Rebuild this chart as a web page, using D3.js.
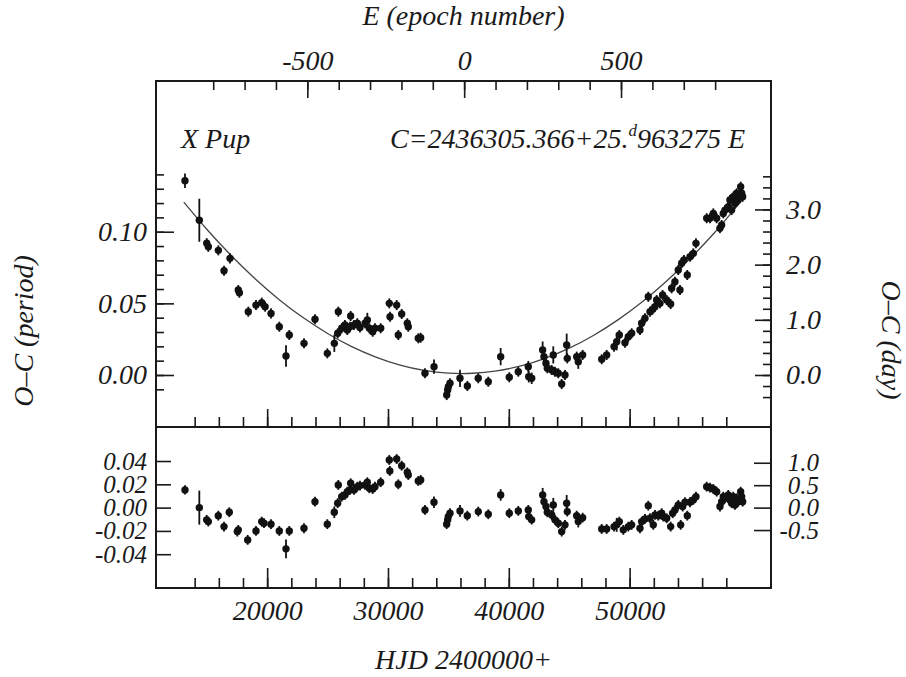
<!DOCTYPE html>
<html lang="en">
<head>
<meta charset="utf-8">
<title>X Pup O-C diagram</title>
<script src="https://cdn.jsdelivr.net/npm/d3@7"></script>
<style>
  body { margin: 0; background: #fff; }
  svg text {
    font-family: "Liberation Serif", "Times New Roman", serif;
    font-style: italic;
    font-size: 28px;
    fill: #1a1a1a;
  }
  svg .small text { font-size: 25px; }
  .axis path { display: none; }
  .axis line { stroke: #1a1a1a; stroke-width: 1.6; }
</style>
</head>
<body>
<script>

var period = 25.963275, epoch0 = 36305.366;

// [HJD-2400000, O-C (period), error bar]
var ocData = [
  [13200, 0.1356, 0.005], [14385, 0.108, 0.015], [15000, 0.092], [15130, 0.0895],
  [15960, 0.087], [16430, 0.0728], [16925, 0.0814], [17610, 0.0593], [17700, 0.0574],
  [18440, 0.0442], [19075, 0.0488], [19550, 0.0505], [19830, 0.0477], [20320, 0.043],
  [21005, 0.0337], [21560, 0.0133, 0.0075], [21830, 0.0279], [23050, 0.0221],
  [23960, 0.0389], [24980, 0.0151], [25560, 0.0221, 0.006], [25840, 0.0291],
  [25890, 0.0442], [26170, 0.0326], [26440, 0.0349], [26630, 0.0314], [26855, 0.0337],
  [26910, 0.0412], [27185, 0.0349], [27460, 0.0361], [27680, 0.0332], [28100, 0.0361],
  [28290, 0.0384, 0.005], [28455, 0.0326], [28735, 0.0302], [28925, 0.0326],
  [29400, 0.0326], [30110, 0.050], [30170, 0.0407], [30720, 0.0488], [30855, 0.0279],
  [31135, 0.0426], [31600, 0.0361], [31680, 0.0337], [32510, 0.0256], [32705, 0.026],
  [33060, 0.0012], [33810, 0.0058, 0.005], [34860, -0.014], [34940, -0.0105],
  [34995, -0.0082], [35130, -0.0058], [35960, -0.0023, 0.006], [36570, -0.0077],
  [37470, -0.0023], [38300, -0.0047], [39325, 0.0128, 0.006], [40040, -0.0016],
  [40785, 0.0023], [41610, 0.0058, 0.004], [41650, -0.0012, 0.004], [41895, -0.0023, 0.004],
  [42800, 0.0174, 0.006], [42910, 0.0128], [43075, 0.0082], [43185, 0.0047],
  [43545, 0.0035], [43680, 0.014, 0.006], [43820, 0.0023], [44095, 0.0012],
  [44375, -0.0063], [44650, 0.000], [44790, 0.0209, 0.008], [44840, 0.0116],
  [45620, 0.0128], [45750, 0.0093, 0.005], [46110, 0.014], [47690, 0.011], [48100, 0.014],
  [48710, 0.0198], [48930, 0.0232, 0.006], [49145, 0.0279], [49615, 0.0225],
  [49890, 0.0267], [50170, 0.0291], [50855, 0.0314], [50995, 0.0361], [51270, 0.0396],
  [51545, 0.0546], [51685, 0.0442], [51905, 0.0458], [52095, 0.0477], [52235, 0.0523],
  [52510, 0.050], [52730, 0.0558], [53065, 0.0523], [53395, 0.0495], [53475, 0.0605],
  [53750, 0.0651], [54025, 0.0733], [54165, 0.0593], [54305, 0.078], [54495, 0.0803],
  [54770, 0.0698], [55000, 0.0826], [55270, 0.0849], [55490, 0.0919], [56380, 0.1094],
  [56650, 0.1094], [56925, 0.1128], [57200, 0.1094], [57475, 0.1024], [57615, 0.1047],
  [57750, 0.1128], [57890, 0.1151], [58165, 0.1174], [58300, 0.1221], [58440, 0.1151],
  [58580, 0.1244], [58715, 0.1198], [58855, 0.1268], [58990, 0.1221], [59190, 0.1314],
  [59270, 0.1268], [59355, 0.1244]
];

// [HJD-2400000, residual (period), error bar]
var resData = [
  [13200, 0.0152, 0.004], [14385, 0.0, 0.0146], [14995, -0.0105], [15130, -0.012],
  [15956, -0.0069], [16866, -0.004], [16428, -0.0163], [17611, -0.0191], [17528, -0.0206],
  [18389, -0.0277], [19076, -0.020], [19548, -0.012], [19738, -0.0134], [20317, -0.0142],
  [21004, -0.020], [21559, -0.0354, 0.008], [21832, -0.020], [23048, -0.0177],
  [23958, 0.0051], [24977, -0.0142], [25556, -0.004, 0.005], [25887, 0.0195],
  [25837, 0.0038], [26168, 0.0094], [26441, 0.0109], [26632, 0.0137], [26855, 0.0152],
  [26913, 0.0209], [27186, 0.0152], [27460, 0.018], [27683, 0.0189], [28097, 0.0195],
  [28287, 0.0218], [28453, 0.0166], [28734, 0.016], [28924, 0.018], [29396, 0.0218],
  [30108, 0.0409], [30720, 0.0417], [30150, 0.0315], [30853, 0.020], [31134, 0.036],
  [31598, 0.0303], [31680, 0.028], [32508, 0.0229], [32706, 0.0237], [33062, -0.002],
  [33807, 0.0046, 0.005], [34858, -0.0142], [34991, -0.0077], [35131, -0.0048],
  [34940, -0.0105], [35959, -0.0028, 0.005], [36563, -0.0069], [37474, -0.0034],
  [38301, -0.0057], [39327, 0.0109, 0.005], [40039, -0.0048], [40784, -0.0028],
  [41611, -0.002], [41650, -0.0077, 0.004], [41893, -0.0105, 0.004], [42803, 0.0109, 0.006],
  [42911, 0.0051], [43076, 0.0009], [43184, -0.004], [43548, -0.0063], [43681, 0.0023, 0.006],
  [43822, -0.0105], [44095, -0.0134], [44376, -0.0206], [44649, -0.0148],
  [44790, 0.0038, 0.007], [44840, -0.0034], [45617, -0.0069], [45750, -0.012, 0.005],
  [46114, -0.0086], [47688, -0.0183], [48100, -0.0183], [48710, -0.0163],
  [48929, -0.0148, 0.006], [49145, -0.012], [49476, -0.0191], [49890, -0.0163],
  [50169, -0.0148], [50856, -0.0177], [50996, -0.012], [51270, -0.0097], [51543, 0.0017],
  [51684, -0.0091], [51958, -0.0148], [52098, -0.0063], [52371, -0.0069], [52653, -0.0048],
  [52785, -0.0077], [53066, -0.0091], [53397, -0.0163], [53562, -0.0048], [53753, -0.002],
  [54026, 0.0023], [54225, -0.0148], [54390, 0.0009], [54581, 0.0046], [54771, -0.0069],
  [54994, 0.0046], [55267, 0.0066], [55490, 0.0094], [56376, 0.018], [56650, 0.0171],
  [56923, 0.016], [57204, 0.0137], [57477, 0.0009], [57617, 0.0051], [57750, 0.0094],
  [57891, 0.008], [58164, 0.0109], [58305, 0.0066], [58445, 0.0038], [58578, 0.0094],
  [58719, 0.0023], [58860, 0.008], [58991, 0.0051], [59190, 0.0137], [59273, 0.0094],
  [59355, 0.0051]
];

// fitted parabola at regular HJD steps
var fitHJD = [13100, 15000, 17000, 19000, 21000, 23000, 25000, 27000, 29000, 31000, 33000,
              35000, 37000, 39000, 41000, 43000, 45000, 47000, 49000, 51000, 53000, 55000,
              57000, 59200];
var fitOC = [0.1206, 0.1017, 0.0836, 0.0672, 0.0526, 0.0399, 0.0290, 0.0198, 0.0125, 0.0069,
             0.0032, 0.0013, 0.0012, 0.0029, 0.0063, 0.0116, 0.0187, 0.0276, 0.0383, 0.0508,
             0.0651, 0.0813, 0.0991, 0.1210];

// tick values
var hjdMinor = d3.range(14000, 58001, 2000);
var hjdMajor = [20000, 30000, 40000, 50000];
var epochMinor = d3.range(-800, 801, 100);
var epochMajor = [-500, 0, 500];
var ocMinor = d3.range(-1, 15).map(function(d) { return d / 100; });
var ocMajor = [0, 0.05, 0.10];
var dayMinor = d3.range(-2, 19).map(function(d) { return d / 5; });
var dayMajor = [0, 1, 2, 3];
var resTicks = [-0.04, -0.02, 0, 0.02, 0.04];
var resDayTicks = [-0.5, 0, 0.5, 1.0];

var width = 906, height = 677;
var pLeft = 156, pRight = 771, pTop = 81, pMid = 427, pBottom = 588;

var svg = d3.select("body").append("svg")
    .attr("width", width)
    .attr("height", height);

var x = d3.scaleLinear().domain([10800, 61700]).range([pLeft, pRight]);
var xE = d3.scaleLinear()
    .domain(x.domain().map(function(h) { return (h - epoch0) / period; }))
    .range([pLeft, pRight]);

var yTop = d3.scaleLinear().domain([-0.0363, 0.2052]).range([pMid, pTop]);
var yTopDay = d3.scaleLinear().domain(yTop.domain().map(function(v) { return v * period; })).range([pMid, pTop]);
var yBot = d3.scaleLinear().domain([-0.069, 0.0692]).range([pBottom, pMid]);
var yBotDay = d3.scaleLinear().domain(yBot.domain().map(function(v) { return v * period; })).range([pBottom, pMid]);

var dash = function(f) { return function(d) { return f(d).replace("\u2212", "-"); }; };

function ticks(axis, tx, ty) {
  return svg.append("g").attr("class", "axis")
     .attr("transform", "translate(" + tx + "," + ty + ")")
     .call(axis);
}

// inward ticks, upper panel
ticks(d3.axisRight(yTop).tickValues(ocMinor).tickSize(8).tickFormat(""), pLeft, 0);
ticks(d3.axisRight(yTop).tickValues(ocMajor).tickSize(18).tickFormat(""), pLeft, 0);
ticks(d3.axisLeft(yTopDay).tickValues(dayMinor).tickSize(8).tickFormat(""), pRight, 0);
ticks(d3.axisLeft(yTopDay).tickValues(dayMajor).tickSize(16).tickFormat(""), pRight, 0);
ticks(d3.axisBottom(xE).tickValues(epochMinor).tickSize(9).tickFormat(""), 0, pTop);
ticks(d3.axisBottom(xE).tickValues(epochMajor).tickSize(17).tickFormat(""), 0, pTop);
ticks(d3.axisTop(x).tickValues(hjdMinor).tickSize(10).tickFormat(""), 0, pMid);
ticks(d3.axisTop(x).tickValues(hjdMajor).tickSize(18).tickFormat(""), 0, pMid);

// inward ticks, lower panel
ticks(d3.axisRight(yBot).tickValues(resTicks).tickSize(15).tickFormat(""), pLeft, 0);
ticks(d3.axisLeft(yBotDay).tickValues(resDayTicks).tickSize(17).tickFormat(""), pRight, 0);
ticks(d3.axisTop(x).tickValues(hjdMinor).tickSize(10).tickFormat(""), 0, pBottom);
ticks(d3.axisTop(x).tickValues(hjdMajor).tickSize(20).tickFormat(""), 0, pBottom);

// tick labels
ticks(d3.axisLeft(yTop).tickValues(ocMajor).tickSize(0).tickPadding(9).tickFormat(d3.format(".2f")), pLeft, 0);
ticks(d3.axisLeft(yBot).tickValues(resTicks).tickSize(0).tickPadding(9).tickFormat(dash(d3.format(".2f"))), pLeft, 0)
  .classed("small", true);
ticks(d3.axisTop(xE).tickValues(epochMajor).tickSize(0).tickPadding(11).tickFormat(dash(d3.format("d"))), 0, pTop);
ticks(d3.axisBottom(x).tickValues(hjdMajor).tickSize(0).tickPadding(12).tickFormat(d3.format("d")), 0, pBottom);

ticks(d3.axisRight(yTopDay).tickValues(dayMajor).tickSize(0).tickFormat(d3.format(".1f")), pRight, 0)
  .selectAll("text").attr("text-anchor", "end").attr("x", 50);
ticks(d3.axisRight(yBotDay).tickValues(resDayTicks).tickSize(0).tickFormat(dash(d3.format(".1f"))), pRight, 0)
  .classed("small", true)
  .selectAll("text").attr("text-anchor", "end").attr("x", 48);

svg.selectAll(".axis text").attr("fill", null).attr("font-family", null).attr("font-size", null);

// frames
svg.append("rect").attr("x", pLeft).attr("y", pTop)
   .attr("width", pRight - pLeft).attr("height", pMid - pTop)
   .attr("fill", "none").attr("stroke", "#1a1a1a").attr("stroke-width", 2);
svg.append("rect").attr("x", pLeft).attr("y", pMid)
   .attr("width", pRight - pLeft).attr("height", pBottom - pMid)
   .attr("fill", "none").attr("stroke", "#1a1a1a").attr("stroke-width", 2);

// fitted curve
var fit = fitHJD.map(function(h, i) { return [h, fitOC[i]]; });
svg.append("path")
    .datum(fit)
    .attr("fill", "none")
    .attr("stroke", "#444")
    .attr("stroke-width", 1.3)
    .attr("d", d3.line()
        .x(function(d) { return x(d[0]); })
        .y(function(d) { return yTop(d[1]); })
        .curve(d3.curveNatural));

function points(data, y, defErr) {
  var g = svg.append("g");
  g.selectAll(".err")
      .data(data)
    .enter().append("line")
      .attr("x1", function(d) { return x(d[0]); })
      .attr("x2", function(d) { return x(d[0]); })
      .attr("y1", function(d) { return y(d[1] - (d[2] || defErr)); })
      .attr("y2", function(d) { return y(d[1] + (d[2] || defErr)); })
      .attr("stroke", "#111")
      .attr("stroke-width", 1.8);
  g.selectAll(".dot")
      .data(data)
    .enter().append("circle")
      .attr("cx", function(d) { return x(d[0]); })
      .attr("cy", function(d) { return y(d[1]); })
      .attr("r", 3.7)
      .attr("fill", "#111");
}
points(ocData, yTop, 0.0035);
points(resData, yBot, 0.0042);

// labels
svg.append("text").attr("x", (pLeft + pRight) / 2).attr("y", 25)
   .attr("text-anchor", "middle").text("E (epoch number)");
svg.append("text").attr("x", (pLeft + pRight) / 2).attr("y", 669)
   .attr("text-anchor", "middle").text("HJD 2400000+");
svg.append("text").attr("transform", "translate(33,331) rotate(-90)")
   .attr("text-anchor", "middle").text("O\u2013C (period)");
svg.append("text").attr("transform", "translate(882,340) rotate(90)")
   .attr("text-anchor", "middle").text("O\u2013C (day)");
svg.append("text").attr("x", 181).attr("y", 148).text("X Pup");

var ephem = svg.append("text").attr("x", 745).attr("y", 148).attr("text-anchor", "end");
ephem.append("tspan").text("C=2436305.366+25.");
ephem.append("tspan").attr("dy", -12).style("font-size", "17px").text("d");
ephem.append("tspan").attr("dy", 12).text("963275 E");

</script>
</body>
</html>
